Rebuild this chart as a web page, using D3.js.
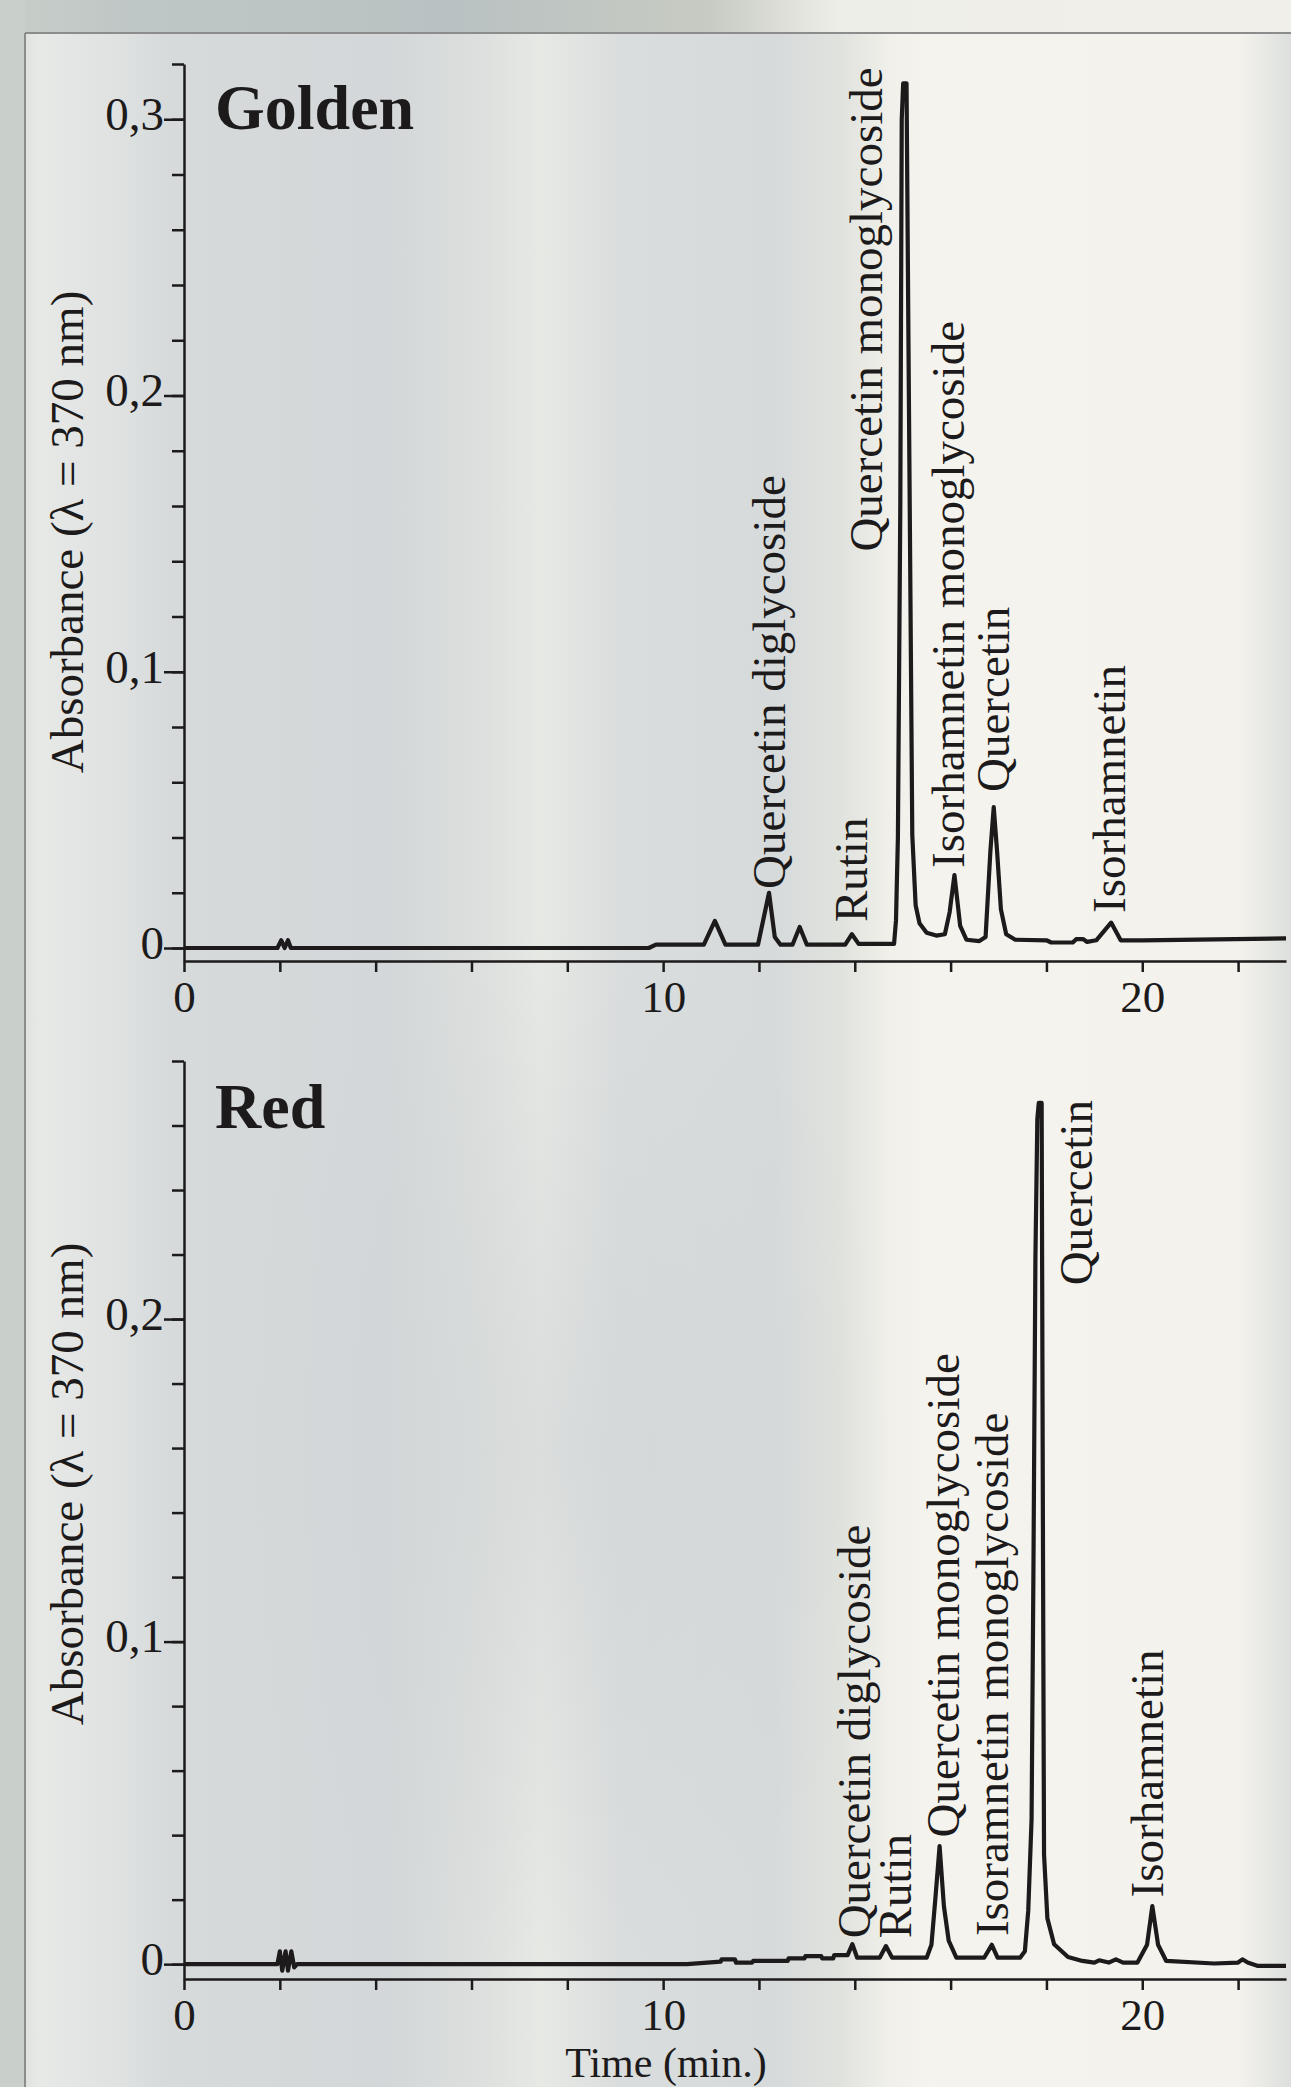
<!DOCTYPE html>
<html>
<head>
<meta charset="utf-8">
<script src="https://cdn.jsdelivr.net/npm/d3@7"></script>
<style>
  html, body { margin: 0; padding: 0; background: #dcdfdd; }
  svg { display: block; }
  text { font-family: "Liberation Serif", "Times New Roman", serif; fill: #1c1a1a; }
</style>
</head>
<body>
<script>
// ---------------- DATA ----------------
const panelNames = ["Golden", "Red"];

// Time ticks (min) and their labels
const timeTicks = [0, 2, 4, 6, 8, 10, 12, 14, 16, 18, 20, 22];
const timeTickLabels = ["0", "", "", "", "", "10", "", "", "", "", "20", ""];

// Absorbance ticks
const goldenMajorTicks = [0, 0.1, 0.2, 0.3];
const goldenMajorLabels = ["0", "0,1", "0,2", "0,3"];
const goldenMinorTicks = [0, 0.02, 0.04, 0.06, 0.08, 0.1, 0.12, 0.14, 0.16, 0.18, 0.2, 0.22, 0.24, 0.26, 0.28, 0.3, 0.32];
const redMajorTicks = [0, 0.1, 0.2];
const redMajorLabels = ["0", "0,1", "0,2"];
const redMinorTicks = [0, 0.02, 0.04, 0.06, 0.08, 0.1, 0.12, 0.14, 0.16, 0.18, 0.2, 0.22, 0.24, 0.26, 0.28];

// Chromatogram traces: [time (min), absorbance]
const goldenTrace = [
  [0,0],[1.95,0],[2.03,0.0028],[2.1,0],[2.17,0.0028],[2.23,0],[2.3,0],
  [9.7,0],[9.85,0.0012],[10.85,0.0012],[11.08,0.0098],[11.3,0.0012],
  [11.98,0.0012],[12.21,0.020],[12.33,0.004],[12.45,0.0012],
  [12.7,0.0012],[12.85,0.0076],[13.0,0.0012],
  [13.8,0.0012],[13.94,0.005],[14.08,0.0015],[14.82,0.0015],
  [14.86,0.01],[14.9,0.04],[14.95,0.16],[14.98,0.3],[15.01,0.313],[15.08,0.313],
  [15.12,0.22],[15.2,0.041],[15.27,0.0155],[15.35,0.009],[15.5,0.0055],[15.7,0.0045],
  [15.88,0.005],[15.98,0.013],[16.08,0.0264],[16.2,0.008],[16.33,0.003],[16.6,0.0025],
  [16.73,0.004],[16.83,0.035],[16.9,0.051],[16.97,0.035],[17.05,0.014],[17.16,0.005],[17.35,0.003],
  [18.0,0.0028],[18.1,0.002],[18.55,0.002],[18.62,0.0032],[18.77,0.0032],[18.85,0.0022],
  [19.04,0.0028],[19.35,0.0092],[19.55,0.0028],[20.0,0.0028],[23.0,0.0035]
];

const redTrace = [
  [0,0],[1.95,0],[2.0,0.004],[2.05,-0.002],[2.12,0.004],[2.17,-0.002],[2.24,0.004],[2.3,-0.001],[2.36,0],
  [10.5,0],[11.2,0.0008],[11.22,0.0015],[11.5,0.0015],[11.52,0.0005],[11.86,0.0005],[11.88,0.001],
  [12.6,0.001],[12.62,0.0018],[12.95,0.0018],[12.97,0.0025],[13.3,0.0025],[13.32,0.0018],
  [13.55,0.0018],[13.57,0.0028],[13.85,0.0028],[13.95,0.0062],[14.05,0.002],
  [14.52,0.002],[14.65,0.0056],[14.78,0.002],[15.5,0.002],
  [15.6,0.006],[15.68,0.02],[15.77,0.0366],[15.86,0.018],[15.96,0.0073],[16.12,0.002],
  [16.7,0.002],[16.86,0.006],[16.98,0.002],[17.45,0.002],
  [17.55,0.004],[17.62,0.0165],[17.69,0.045],[17.73,0.125],[17.77,0.219],[17.81,0.262],
  [17.84,0.267],[17.9,0.267],[17.93,0.12],[17.95,0.034],[18.02,0.0142],[18.16,0.0062],
  [18.45,0.0022],[18.75,0.001],[19.0,0.0005],[19.1,0.0012],[19.3,0.0005],[19.45,0.0015],
  [19.6,0.0005],[19.9,0.0005],[20.1,0.006],[20.21,0.018],[20.33,0.006],[20.5,0.001],
  [21.5,0.0002],[22.0,0.0005],[22.09,0.0015],[22.2,0.0005],[22.4,-0.0005],[23.0,-0.0005]
];

// Peak annotations (text, anchor time, anchor absorbance where the label starts)
const goldenLabels = ["Quercetin diglycoside", "Rutin", "Quercetin monoglycoside", "Isorhamnetin monoglycoside", "Quercetin", "Isorhamnetin"];
const goldenLabelTime = [12.55, 14.26, 14.56, 16.28, 17.21, 19.63];
const goldenLabelAbs = [0.0214, 0.0094, 0.1435, 0.029, 0.0565, 0.0127];

const redLabels = ["Quercetin diglycoside", "Rutin", "Quercetin monoglycoside", "Isoramnetin monoglycoside", "Quercetin", "Isorhamnetin"];
const redLabelTime = [14.31, 15.17, 16.17, 17.19, 18.95, 20.43];
const redLabelAbs = [0.008, 0.008, 0.0393, 0.0087, 0.2105, 0.0207];

const yTitle = "Absorbance (\u03bb = 370 nm)";
const xTitle = "Time (min.)";

// ---------------- DRAWING ----------------
const W = 1291, H = 2087;
const svg = d3.select("body").append("svg").attr("width", W).attr("height", H);
const ink = "#1c1a1a";
const FS = 47;

// background imitation of the blurred photo
const defs = svg.append("defs");
const g1 = defs.append("linearGradient").attr("id", "bg").attr("x1", 0).attr("x2", 1).attr("y1", 0).attr("y2", 0);
[[0, "#d2d7d4"], [0.03, "#e6e9e6"], [0.09, "#dfe2e1"], [0.13, "#d6dadb"], [0.3, "#d3d7d9"],
 [0.37, "#dcdfdd"], [0.42, "#e7e9e5"], [0.48, "#dadddd"], [0.6, "#d6dadb"], [0.65, "#e0e2dd"],
 [0.69, "#f1f0eb"], [0.72, "#f5f3ee"], [0.96, "#f4f2ed"], [1, "#dcdfdc"]]
  .forEach(([o, c]) => g1.append("stop").attr("offset", o).attr("stop-color", c));
const g2 = defs.append("radialGradient").attr("id", "blob").attr("cx", 0.5).attr("cy", 0.5).attr("r", 0.5);
g2.append("stop").attr("offset", 0).attr("stop-color", "#cfd3d5").attr("stop-opacity", 0.55);
g2.append("stop").attr("offset", 1).attr("stop-color", "#cfd3d5").attr("stop-opacity", 0);
const g3 = defs.append("linearGradient").attr("id", "outer").attr("x1", 0).attr("x2", 1);
[[0, "#c8cec9"], [0.1, "#bfc7c6"], [0.35, "#b9c1c2"], [0.55, "#c7cbc2"], [0.65, "#eeeee8"], [1, "#f1efea"]]
  .forEach(([o, c]) => g3.append("stop").attr("offset", o).attr("stop-color", c));

svg.append("rect").attr("width", W).attr("height", H).attr("fill", "url(#bg)");
svg.append("ellipse").attr("cx", 560).attr("cy", 1450).attr("rx", 330).attr("ry", 520).attr("fill", "url(#blob)");
svg.append("rect").attr("x", 0).attr("y", 0).attr("width", W).attr("height", 33).attr("fill", "url(#outer)");
svg.append("rect").attr("x", 0).attr("y", 0).attr("width", 25).attr("height", H).attr("fill", "#c9d0cb");
svg.append("line").attr("x1", 25).attr("x2", W).attr("y1", 33).attr("y2", 33).attr("stroke", "#8c8c8c").attr("stroke-width", 2);
svg.append("line").attr("x1", 25).attr("x2", 25).attr("y1", 33).attr("y2", H).attr("stroke", "#8c8c8c").attr("stroke-width", 2);

const x = d3.scaleLinear().domain([0, 23]).range([184, 1286]);

const panels = [
  { name: panelNames[0], trace: goldenTrace, yDomain: [-0.0047, 0.32], yRange: [961, 64],
    major: goldenMajorTicks, majorLabels: goldenMajorLabels, minor: goldenMinorTicks,
    labels: goldenLabels, lt: goldenLabelTime, la: goldenLabelAbs,
    nameY: 129, titleY: 532, showXTitle: false },
  { name: panelNames[1], trace: redTrace, yDomain: [-0.0046, 0.28], yRange: [1979, 1061],
    major: redMajorTicks, majorLabels: redMajorLabels, minor: redMinorTicks,
    labels: redLabels, lt: redLabelTime, la: redLabelAbs,
    nameY: 1128, titleY: 1484, showXTitle: true }
];

panels.forEach(p => {
  const y = d3.scaleLinear().domain(p.yDomain).range(p.yRange);
  const g = svg.append("g");
  const axisY0 = p.yRange[0];

  // y axis: minor ticks + domain
  const yMinor = g.append("g").attr("transform", `translate(${x(0)},0)`)
    .call(d3.axisLeft(y).tickValues(p.minor).tickSize(12).tickSizeOuter(0).tickFormat(""));
  // y axis: major ticks with labels
  const yMajor = g.append("g").attr("transform", `translate(${x(0)},0)`)
    .call(d3.axisLeft(y).tickValues(p.major).tickSize(20).tickSizeOuter(0).tickPadding(0)
      .tickFormat((d, i) => p.majorLabels[i]));
  yMajor.select(".domain").remove();
  [yMinor, yMajor].forEach(a => {
    a.selectAll("path, line").attr("stroke", ink).attr("stroke-width", 2.5);
    a.selectAll("text").attr("font-size", FS).attr("fill", ink)
      .attr("font-family", "Liberation Serif, Times New Roman, serif").attr("dy", "0.22em");
  });

  // x axis
  const xa = g.append("g").attr("transform", `translate(0,${axisY0})`)
    .call(d3.axisBottom(x).tickValues(timeTicks).tickSize(11).tickSizeOuter(0)
      .tickFormat((d, i) => timeTickLabels[i]));
  xa.selectAll("path, line").attr("stroke", ink).attr("stroke-width", 2.5);
  xa.selectAll("text").attr("font-size", 45).attr("fill", ink)
    .attr("font-family", "Liberation Serif, Times New Roman, serif")
    .attr("y", 51).attr("dy", 0);

  // trace
  const line = d3.line().x(d => x(d[0])).y(d => y(d[1])).curve(d3.curveLinear);
  g.append("path").datum(p.trace).attr("d", line)
    .attr("fill", "none").attr("stroke", ink).attr("stroke-width", 4.2)
    .attr("stroke-linejoin", "round").attr("stroke-linecap", "butt");

  // peak labels
  g.selectAll("text.peak").data(p.labels).join("text").attr("class", "peak")
    .attr("transform", (d, i) => `translate(${x(p.lt[i])},${y(p.la[i])}) rotate(-90)`)
    .attr("text-anchor", "start").attr("font-size", FS).text(d => d);

  // panel name
  g.append("text").attr("x", 215).attr("y", p.nameY).attr("font-size", 64)
    .attr("font-weight", "bold").text(p.name);

  // y title
  g.append("text").attr("transform", `translate(83,${p.titleY}) rotate(-90)`)
    .attr("text-anchor", "middle").attr("font-size", FS).text(yTitle);

  if (p.showXTitle) {
    g.append("text").attr("x", 666).attr("y", 2077).attr("text-anchor", "middle")
      .attr("font-size", 42).text(xTitle);
  }
});
</script>
</body>
</html>
